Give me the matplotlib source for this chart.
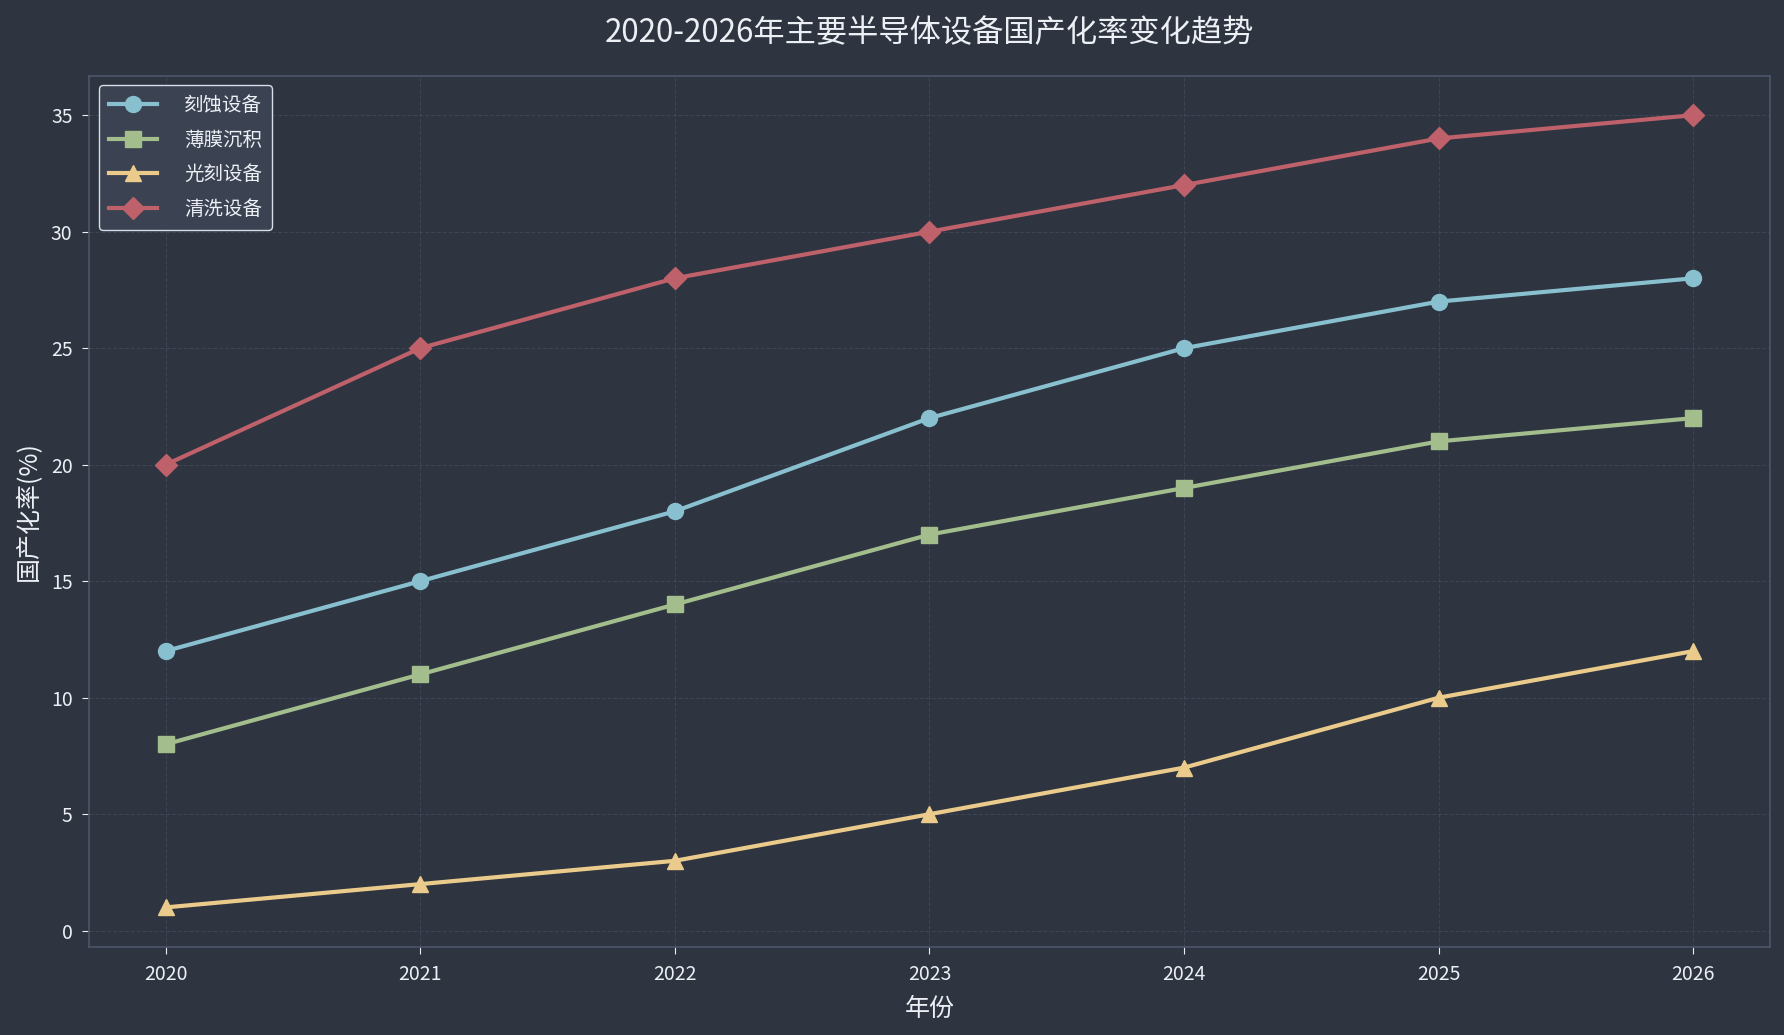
import matplotlib
matplotlib.use('Agg')
import matplotlib.pyplot as plt

plt.rcParams['font.family'] = ['Noto Sans CJK SC', 'DejaVu Sans']
plt.rcParams['axes.unicode_minus'] = False

years = [2020, 2021, 2022, 2023, 2024, 2025, 2026]
etch = [12, 15, 18, 22, 25, 27, 28]
film = [8, 11, 14, 17, 19, 21, 22]
litho = [1, 2, 3, 5, 7, 10, 12]
clean = [20, 25, 28, 30, 32, 34, 35]

series = [
    ('刻蚀设备', etch, '#88C0D0', 'o'),
    ('薄膜沉积', film, '#A3BE8C', 's'),
    ('光刻设备', litho, '#EBCB8B', '^'),
    ('清洗设备', clean, '#BF616A', 'D'),
]

bg = '#2E3440'
fg = '#ECEFF4'

fig, ax = plt.subplots(figsize=(17.84, 10.35), dpi=100)
fig.patch.set_facecolor(bg)
ax.set_facecolor(bg)

for name, vals, color, marker in series:
    ax.plot(years, vals, label=name, color=color, marker=marker,
            linewidth=3, markersize=11.5)

ax.set_title('2020-2026年主要半导体设备国产化率变化趋势', color=fg, fontsize=22.5, pad=24)
ax.set_xlabel('年份', color=fg, fontsize=18, labelpad=8)
ax.set_ylabel('国产化率(%)', color=fg, fontsize=18, labelpad=6)
ax.set_xticks(years)
ax.tick_params(colors=fg, labelsize=14, pad=7, length=5)
for s in ax.spines.values():
    s.set_color('#4C566A')
    s.set_linewidth(1.2)
ax.grid(True, linestyle='--', color='#4C566A', alpha=0.5)

leg = ax.legend(loc='upper left', fontsize=14, facecolor='#3B4252',
                edgecolor='#D8DEE9', framealpha=1, labelspacing=0.7,
                handlelength=2.5, handletextpad=1.4, borderpad=0.5)
for t in leg.get_texts():
    t.set_color(fg)

fig.subplots_adjust(left=0.05, right=0.992, top=0.927, bottom=0.085)
fig.savefig('out.png', facecolor=bg)
